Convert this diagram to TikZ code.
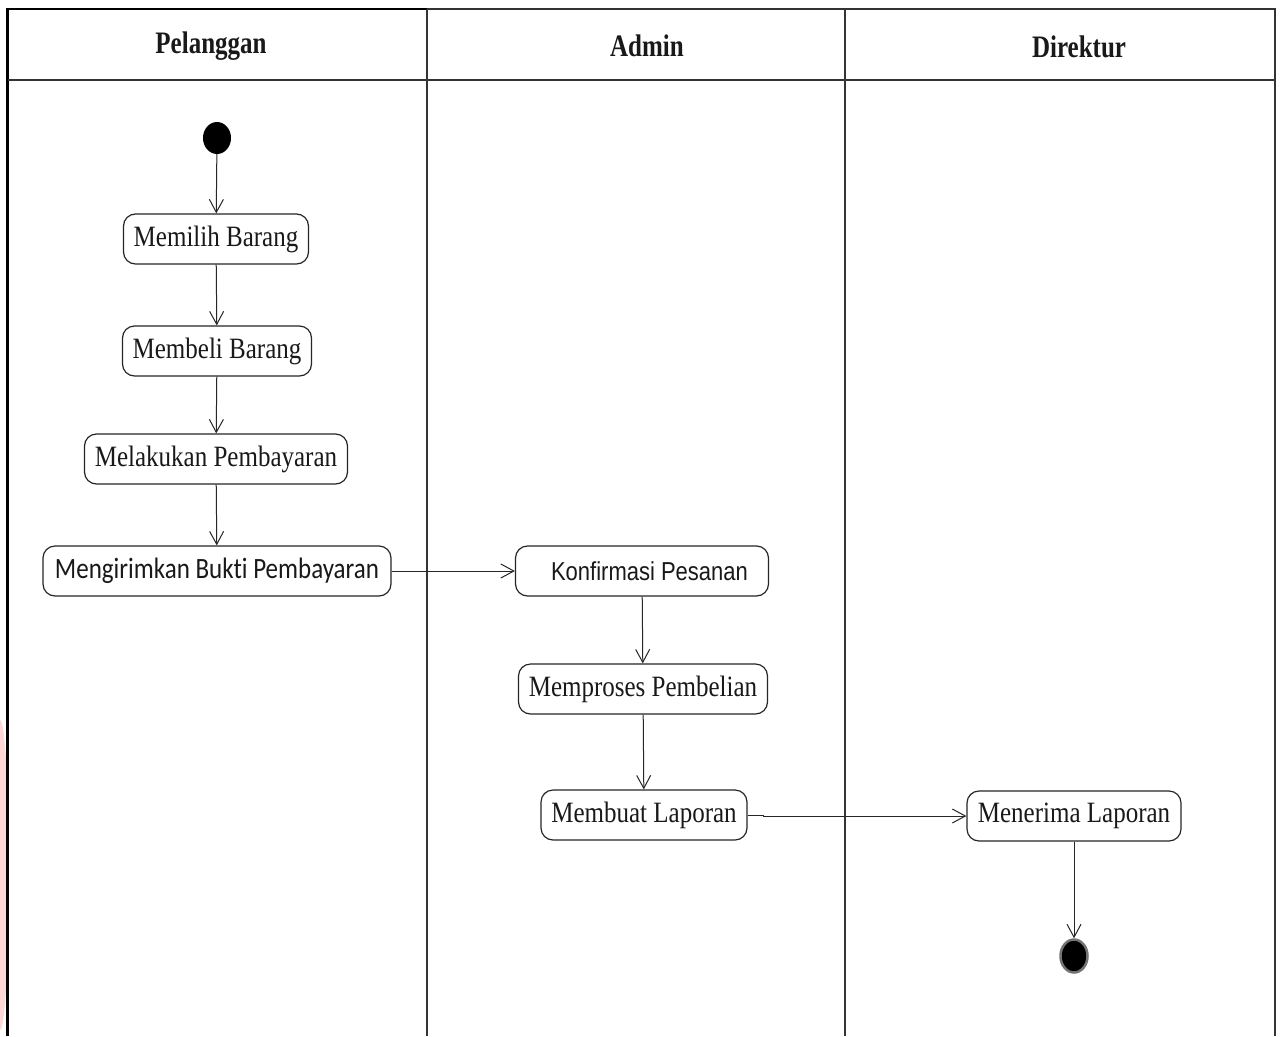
\documentclass[tikz,border=0pt]{standalone}
\usepackage{fontspec}
\setmainfont{Liberation Serif}
\newfontfamily\calibrifont[Ligatures={NoCommon}]{Carlito}
\newfontfamily\arialfont[Ligatures={NoCommon}]{Liberation Sans}
\usetikzlibrary{arrows.meta,shapes.geometric}

% slightly tall lettering used throughout the diagram
\newcommand{\tallbox}[1]{\scalebox{1}[1.18]{#1}}
\newcommand{\tallhead}[1]{\scalebox{1}[1.25]{#1}}

\begin{document}
\begin{tikzpicture}[x=1pt,y=-1pt,
  lane/.style={draw=black!80, line width=1.4pt},
  laneheavy/.style={draw=black, line width=2.2pt},
  act/.style={draw=black!85, line width=1.2pt, rounded corners=12pt,
    minimum height=50pt, inner xsep=4pt, inner ysep=0pt,
    font=\fontsize{25}{25}\selectfont, text=black!90},
  flow/.style={draw=black!85, line width=1pt,
    -{Straight Barb[length=13pt,width=14pt,line width=1pt]}},
  head/.style={font=\fontsize{25}{25}\selectfont\bfseries, text=black!90},
  startdot/.style={ellipse, fill=black, inner sep=0pt,
    minimum width=28pt, minimum height=32pt},
  enddot/.style={ellipse, fill=black, draw=black!55, line width=2.5pt,
    inner sep=0pt, minimum width=27pt, minimum height=33pt}
]
\useasboundingbox (0,0) rectangle (1281,1036);
\clip (0,0) rectangle (1281,1036);
\fill[white] (0,0) rectangle (1281,1036);

% faint pink mark on the left edge
\fill[red!16] (0,875) ellipse (9 and 155);

% swimlane frame
\draw[lane] (427,9) -- (1275,9) -- (1275,1036);
\draw[laneheavy] (7.5,1036) -- (7.5,9) -- (427,9);
\draw[lane] (7.5,80) -- (1275,80);
\draw[lane] (427,9) -- (427,1036);
\draw[lane] (845,9) -- (845,1036);

% lane titles
\node[head] (hP) at (211,46) {\tallhead{Pelanggan}};
\node[head] (hA) at (647,46) {\tallhead{Admin}};
\node[head] (hD) at (1079,47) {\tallhead{Direktur}};

% activities
\node[startdot] (start) at (217,138) {};
\node[act, minimum width=185pt] (pilih) at (216,239) {\tallbox{Memilih Barang}};
\node[act, minimum width=189pt] (beli) at (217,351) {\tallbox{Membeli Barang}};
\node[act, minimum width=263pt] (bayar) at (216,459) {\tallbox{Melakukan Pembayaran}};
\node[act, minimum width=348pt, font=\calibrifont\fontsize{25}{25}\selectfont]
  (kirim) at (217,571) {\tallbox{Mengirimkan Bukti Pembayaran}};
\node[act, minimum width=253pt, font=\arialfont\fontsize{22}{22}\selectfont]
  (konf) at (642,571) {\hspace*{15pt}\tallbox{Konfirmasi Pesanan}};
\node[act, minimum width=249pt] (proses) at (643,689) {\tallbox{Memproses Pembelian}};
\node[act, minimum width=206pt] (buat) at (644,815) {\tallbox{Membuat Laporan}};
\node[act, minimum width=214pt] (terima) at (1074,816) {\tallbox{Menerima Laporan}};
\node[enddot] (end) at (1074,956) {};

% control flow
\draw[flow] (start) -- (pilih);
\draw[flow] (pilih) -- (beli);
\draw[flow] (beli) -- (bayar);
\draw[flow] (bayar) -- (kirim);
\draw[flow] (kirim) -- (konf);
\draw[flow] (konf) -- (proses);
\draw[flow] (proses) -- (buat);
\draw[flow] (buat.east) -- ++(16,0) |- (terima.west);
\draw[flow] (terima) -- (end);
\end{tikzpicture}
\end{document}
